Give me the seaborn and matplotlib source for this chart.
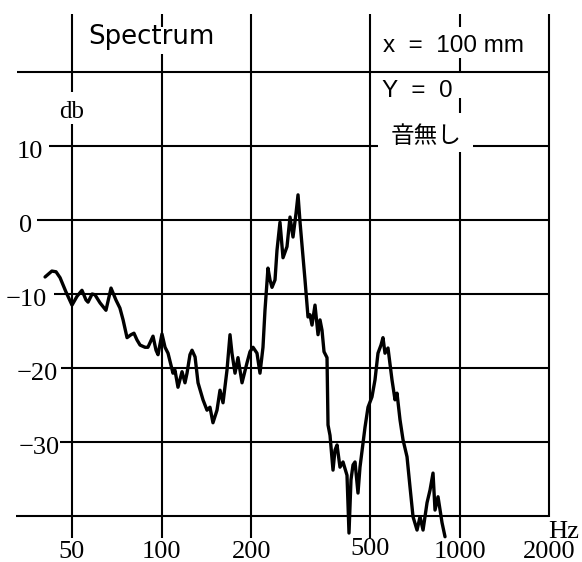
import matplotlib
matplotlib.use("Agg")
import matplotlib.pyplot as plt
import matplotlib.transforms as mtransforms
import seaborn as sns

# Measured spectrum: frequency (Hz) and level (dB)
freq_hz = [
    40.6, 42.8, 44.2, 45.6, 47.7, 50.0, 52.0, 54.0, 55.7, 56.6,
    58.4, 59.7, 62.1, 65.0, 67.6, 70.2, 72.4, 74.2, 76.5, 78.9,
    80.7, 82.6, 84.6, 87.9, 89.9, 93.5, 95.7, 97.2, 100.2, 102.6,
    105.0, 107.4, 109.1, 110.8, 113.4, 117.0, 119.7, 121.6, 124.4, 126.4,
    129.4, 132.4, 137.6, 141.9, 145.2, 148.6, 153.3, 156.9, 160.6, 165.6,
    169.5, 172.1, 176.2, 180.3, 186.0, 193.3, 197.8, 202.5, 208.8, 213.7,
    218.7, 222.1, 227.3, 230.9, 234.5, 240.0, 243.7, 249.4, 255.3, 263.3,
    269.5, 275.8, 282.3, 286.7, 291.2, 298.0, 302.6, 309.7, 314.5, 319.4,
    326.9, 334.6, 339.8, 345.1, 350.5, 358.7, 361.5, 367.1, 375.7, 381.5,
    387.5, 396.5, 405.9, 418.6, 425.1, 431.7, 438.5, 445.3, 455.7, 462.8,
    481.1, 492.4, 507.7, 519.7, 531.8, 544.3, 552.8, 561.4, 574.6, 592.6,
    606.6, 616.0, 630.5, 645.3, 665.6, 681.2, 697.2, 719.1, 736.0, 753.3,
    776.9, 795.0, 813.7, 826.3, 845.7, 872.3, 892.7,
]
level_db = [
    -7.7, -6.9, -7.0, -7.8, -9.7, -11.5, -10.3, -9.5, -10.8, -11.1,
    -10.0, -10.1, -11.2, -12.2, -9.2, -10.8, -11.9, -13.5, -15.9, -15.5,
    -15.3, -16.2, -16.9, -17.2, -17.2, -15.7, -17.6, -18.2, -15.4, -17.2,
    -18.0, -19.6, -20.7, -20.3, -22.6, -20.5, -22.0, -20.7, -18.2, -17.6,
    -18.5, -22.0, -24.3, -25.7, -25.3, -27.4, -25.7, -23.0, -24.7, -20.3,
    -15.5, -18.0, -20.7, -18.6, -22.0, -19.3, -17.8, -17.2, -18.0, -20.7,
    -17.2, -12.2, -6.5, -8.1, -9.1, -8.1, -4.1, -0.3, -5.1, -3.6,
    0.4, -2.3, 0.9, 3.4, -0.3, -5.0, -8.1, -13.1, -12.8, -14.2,
    -11.5, -15.5, -13.5, -14.9, -17.8, -18.6, -27.7, -29.1, -33.8, -31.1,
    -30.4, -33.4, -32.7, -34.5, -42.3, -35.1, -33.1, -32.7, -36.9, -33.4,
    -28.0, -25.3, -23.9, -21.6, -18.0, -16.9, -15.9, -18.0, -17.3, -21.6,
    -24.3, -23.4, -27.0, -29.7, -32.0, -36.1, -40.1, -41.9, -40.1, -41.9,
    -38.2, -36.5, -34.2, -39.2, -37.4, -40.9, -42.8,
]

# Grid and tick values
freq_ticks = [50, 100, 200, 500, 1000, 2000]
freq_tick_labels = ["50", "100", "200", "500", "1000", "2000"]
level_grid = [20, 10, 0, -10, -20, -30, -40]
level_ticks = [10, 0, -10, -20, -30]
level_tick_labels = ["10", "0", "\u221210", "\u221220", "\u221230"]

title_text = "Spectrum"
position_text = "x  =  100 mm"
offset_text = "Y  =  0"
condition_text = "音無し"
unit_y = "db"
unit_x = "Hz"

# ---- canvas geometry (pixels) ----
W, H = 582, 562
PX_50HZ = 72          # x pixel of 50 Hz
PX_PER_DECADE = 298
PY_0DB = 220          # y pixel of 0 dB
PX_PER_DB = 7.4


def hz_at(px):
    return 50.0 * 10 ** ((px - PX_50HZ) / PX_PER_DECADE)


def db_at(py):
    return (PY_0DB - py) / PX_PER_DB


def fx(px):
    return px / W


def fy(py):
    return 1.0 - py / H


sns.set_theme(style="white")
plt.rcParams["font.family"] = ["DejaVu Sans", "Noto Sans CJK JP"]
plt.rcParams["text.color"] = "black"

fig = plt.figure(figsize=(W / 100, H / 100), dpi=100)
fig.patch.set_facecolor("white")
ax = fig.add_axes([0, 0, 1, 1])
ax.set_xscale("log")

grid_kw = dict(color="black", linewidth=1.5, solid_capstyle="butt", zorder=1)

# vertical grid lines, drawn as pieces so the annotations sit in the gaps
v_spans = {
    50: [(14, 92), (124, 538)],
    100: [(14, 27), (54, 538)],
    200: [(14, 538)],
    500: [(14, 538)],
    1000: [(14, 27), (58, 73), (98, 113), (152, 538)],
    2000: [(14, 517)],
}
for f in freq_ticks:
    for top, bot in v_spans[f]:
        ax.plot([f, f], [db_at(top), db_at(bot)], **grid_kw)

# horizontal grid lines
h_spans = {
    20: [(17, 549)],
    10: [(49, 378), (473, 549)],
    0: [(37, 549)],
    -10: [(54, 549)],
    -20: [(61, 549)],
    -30: [(60, 549)],
    -40: [(16, 549)],
}
for lv in level_grid:
    for left, right in h_spans[lv]:
        ax.plot([hz_at(left), hz_at(right)], [lv, lv], **grid_kw)

# spectrum trace
sns.lineplot(x=freq_hz, y=level_db, ax=ax, color="black", linewidth=2.4,
             estimator=None, sort=False, zorder=3)
ax.set_xscale("log")
ax.set_xlim(hz_at(0), hz_at(W))
ax.set_ylim(db_at(H), db_at(0))
ax.axis("off")

serif = ["Liberation Serif", "DejaVu Serif"]
tick_size = 19

# frequency labels along the bottom
xlab_tf = mtransforms.blended_transform_factory(ax.transData, ax.transAxes)
xlab_base_px = {"500": 555}
for f, lab in zip(freq_ticks, freq_tick_labels):
    ax.text(f, fy(xlab_base_px.get(lab, 558)), lab, transform=xlab_tf,
            ha="center", va="baseline", fontsize=tick_size, family=serif)

# level labels on the left
ylab_tf = mtransforms.blended_transform_factory(ax.transAxes, ax.transData)
ylab_right_px = [43, 32, 47, 58, 60]
for lv, lab, rx in zip(level_ticks, level_tick_labels, ylab_right_px):
    ax.text(fx(rx), lv - 12 / PX_PER_DB, lab, transform=ylab_tf,
            ha="right", va="baseline", fontsize=tick_size, family=serif)

# units
ax.text(fx(71.5), fy(118), unit_y, transform=ax.transAxes, ha="center",
        va="baseline", fontsize=18, family=serif)
ax.text(fx(548), fy(538), unit_x, transform=ax.transAxes, ha="left",
        va="baseline", fontsize=tick_size, family=serif)

# header annotations
ax.text(fx(88), fy(44), title_text, transform=ax.transAxes, ha="left",
        va="baseline", fontsize=18.7, family=["DejaVu Sans"])
ax.text(fx(383), fy(52), position_text, transform=ax.transAxes, ha="left",
        va="baseline", fontsize=17.5, family=["Liberation Sans", "DejaVu Sans"])
ax.text(fx(382), fy(97), offset_text, transform=ax.transAxes, ha="left",
        va="baseline", fontsize=17.5, family=["Liberation Sans", "DejaVu Sans"])
ax.text(fx(426.5), fy(143), condition_text, transform=ax.transAxes,
        ha="center", va="baseline", fontsize=17,
        family=["Noto Sans CJK JP", "DejaVu Sans"])

fig.savefig("out.png", dpi=100, facecolor="white")
